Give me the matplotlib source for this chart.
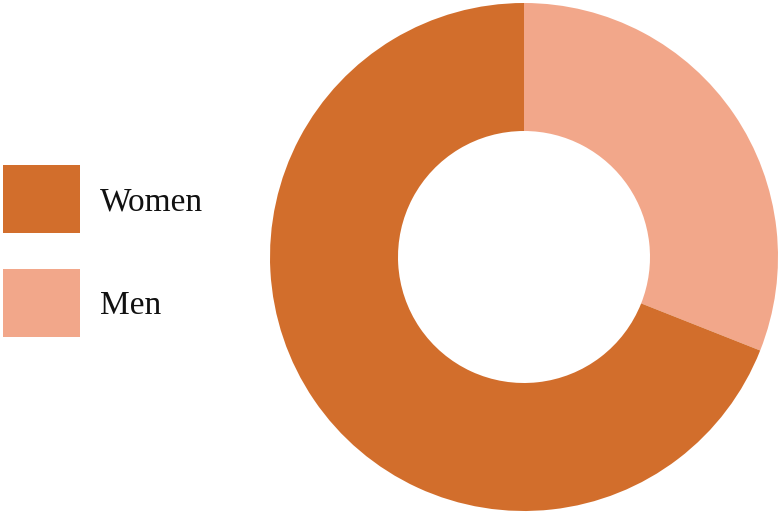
import matplotlib.pyplot as plt
from matplotlib.patches import Rectangle

labels = ["Women", "Men"]
shares = [69, 31]
colors = ["#D26E2C", "#F2A78A"]

fig = plt.figure(figsize=(7.8, 5.13), dpi=100)
ax = fig.add_axes([0, 0, 1, 1])

# donut: Men starts at 12 o'clock, going clockwise
ax.pie(shares[::-1], colors=colors[::-1], startangle=90, counterclock=False,
       center=(524, 256), radius=254, frame=True,
       wedgeprops=dict(width=128, linewidth=0))
ax.set_xlim(0, 780)
ax.set_ylim(0, 513)
ax.axis("off")

# legend squares + labels
for i, (lab, col) in enumerate(zip(labels, colors)):
    y0 = 513 - 233 - i * 104
    ax.add_patch(Rectangle((3, y0), 77, 68, color=col, lw=0))
    ax.text(100, y0 + 31, lab, fontsize=24, family="Liberation Serif",
            va="center", ha="left", color="#111111")

fig.savefig("out.png", dpi=100)
